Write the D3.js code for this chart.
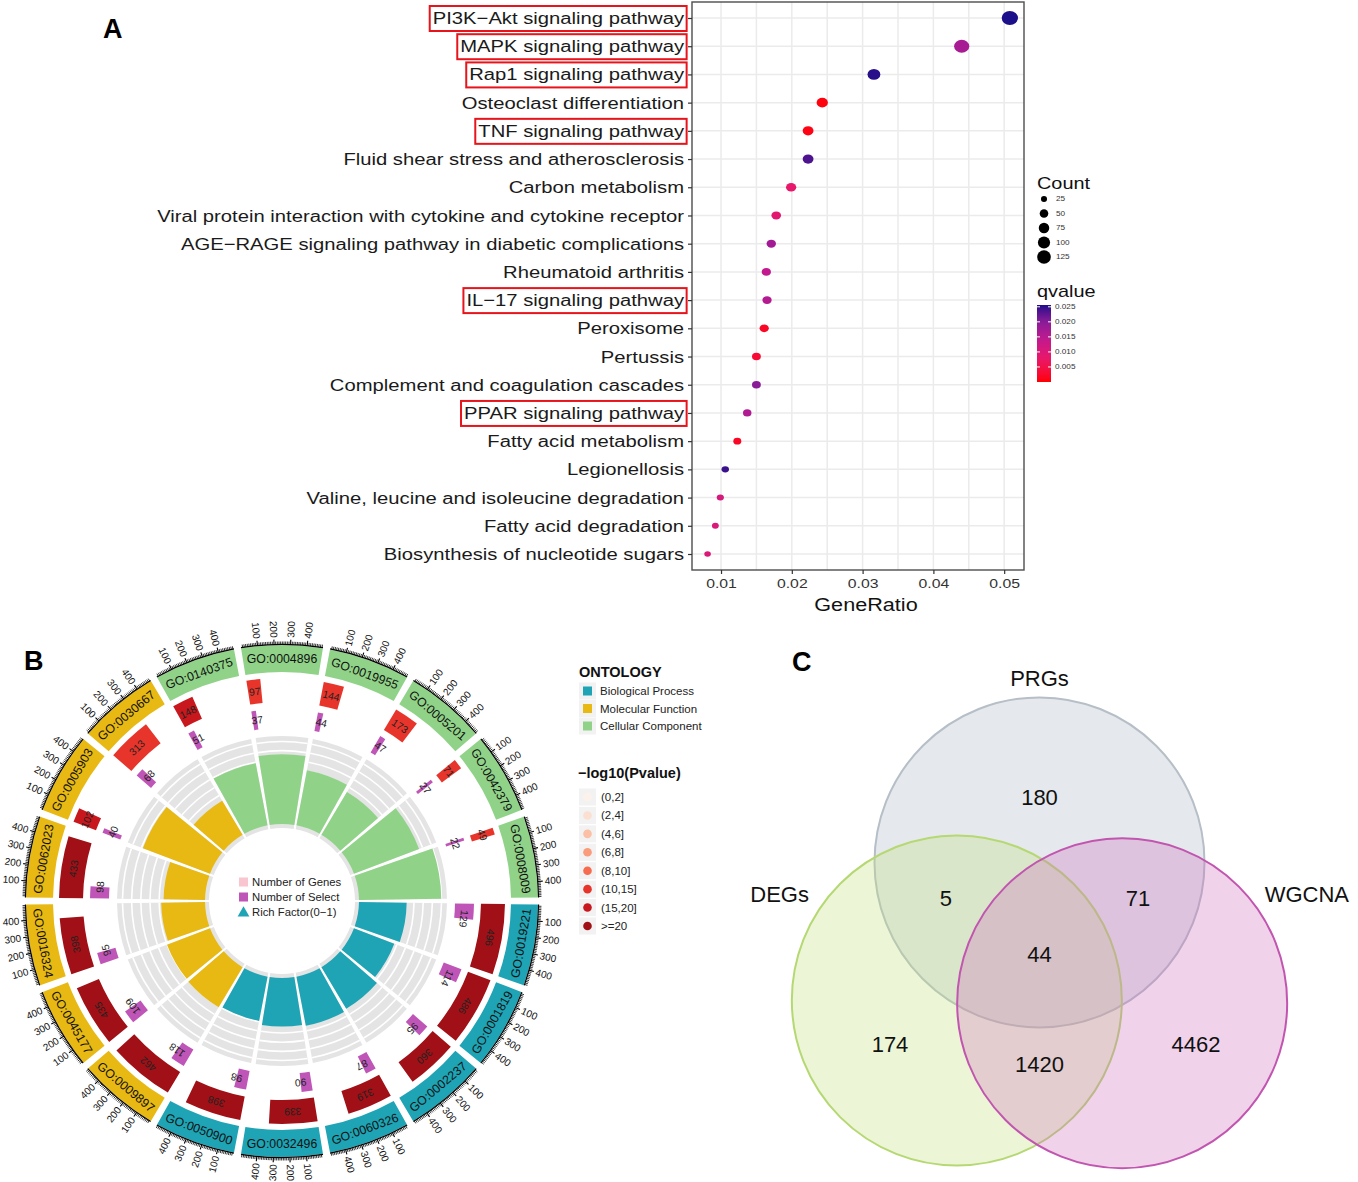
<!DOCTYPE html>
<html><head><meta charset="utf-8">
<script src="https://cdn.jsdelivr.net/npm/d3@7"></script>
<style>
body{margin:0;background:#fff}
svg{display:block;font-family:"Liberation Sans",Arial,Helvetica,sans-serif}
</style>
</head><body>
<svg id="fig" width="1358" height="1182"></svg>
<script>
// ================= PANEL A DATA =================
const pathways = [
  "PI3K\u2212Akt signaling pathway","MAPK signaling pathway","Rap1 signaling pathway",
  "Osteoclast differentiation","TNF signaling pathway","Fluid shear stress and atherosclerosis",
  "Carbon metabolism","Viral protein interaction with cytokine and cytokine receptor",
  "AGE\u2212RAGE signaling pathway in diabetic complications","Rheumatoid arthritis",
  "IL\u221217 signaling pathway","Peroxisome","Pertussis","Complement and coagulation cascades",
  "PPAR signaling pathway","Fatty acid metabolism","Legionellosis",
  "Valine, leucine and isoleucine degradation","Fatty acid degradation","Biosynthesis of nucleotide sugars"];
const geneRatio = [0.0508,0.0440,0.0316,0.0243,0.0223,0.0223,0.0199,0.0178,0.0171,0.0164,
                   0.0165,0.0161,0.0150,0.0150,0.0137,0.0123,0.0106,0.0099,0.0092,0.0081];
const counts = [129,112,80,62,57,57,51,45,43,42,42,41,38,38,35,31,27,25,23,21];
const qvalues = [0.0258,0.0170,0.0252,0.0005,0.0008,0.0235,0.0080,0.0090,0.0175,0.0140,
                 0.0155,0.0020,0.0030,0.0200,0.0160,0.0020,0.0245,0.0110,0.0105,0.0100];
const boxedPathways = ["PI3K\u2212Akt signaling pathway","MAPK signaling pathway","Rap1 signaling pathway",
  "TNF signaling pathway","IL\u221217 signaling pathway","PPAR signaling pathway"];
const xTickValues = [0.01,0.02,0.03,0.04,0.05];
const countLegendValues = [25,50,75,100,125];
const qLegendTicks = [0.005,0.010,0.015,0.020,0.025];
const qColorStops = [0,0.008,0.014,0.020,0.0256];
const qColors = ["#FF0000","#E8186A","#C21A8E","#8A1C98","#1B0F8A"];

// ================= PANEL B DATA =================
const goTerms = ["GO:0019221","GO:0001819","GO:0002237","GO:0060326","GO:0032496","GO:0050900",
                 "GO:0009897","GO:0045177","GO:0016324","GO:0062023","GO:0005903","GO:0030667",
                 "GO:0140375","GO:0004896","GO:0019955","GO:0005201","GO:0042379","GO:0008009"];
const goOntology = ["BP","BP","BP","BP","BP","BP","MF","MF","MF","MF","MF","MF",
                    "CC","CC","CC","CC","CC","CC"];
const geneNumbers = [496,486,360,319,339,398, 462,435,398,433,102,313, 148,97,144,173,71,49];
const selectNumbers = [129,114,95,87,90,98, 118,109,95,98,40,68, 51,37,44,47,27,22];
const richFactors = [0.26,0.235,0.264,0.273,0.265,0.246, 0.255,0.251,0.239,0.226,0.392,0.217,
                     0.345,0.381,0.306,0.272,0.380,0.449];
const pvalueBinIndex = [7,7,7,7,7,7, 7,7,7,7,6,5, 6,5,5,5,5,5];
const pvalueBins = ["(0,2]","(2,4]","(4,6]","(6,8]","(8,10]","(10,15]","(15,20]",">=20"];
const pvalueColors = ["#FCF1EB","#FBDFD0","#FBC0A5","#FA9C7C","#F76B4E","#E8352B","#C8181D","#A01016"];
const ontologyKeys = ["BP","MF","CC"];
const ontologyNames = ["Biological Process","Molecular Function","Cellular Component"];
const ontologyColors = ["#1EA4B5","#E8B912","#90D388"];
const axisMajorTicks = [100,200,300,400];
const innerLegendLabels = ["Number of Genes","Number of Select","Rich Factor(0\u22121)"];

// ================= PANEL C DATA =================
const vennSetNames = ["PRGs","DEGs","WGCNA"];
const vennRegionLabels = ["PRGs only","PRGs&DEGs","PRGs&WGCNA","all","DEGs only","DEGs&WGCNA","WGCNA only"];
const vennRegionCounts = [180,5,71,44,174,1420,4462];

// =====================================================
const svg = d3.select("#fig");
svg.append("rect").attr("width",1358).attr("height",1182).attr("fill","#fff");

[["A",103,38],["B",24,670],["C",792,671]].forEach(([t,x,y])=>{
  svg.append("text").attr("x",x).attr("y",y).attr("font-size",27).attr("font-weight","bold").text(t);
});

// ================= PANEL A =================
(function(){
  const SX = 1.17; // horizontal stretch of panel A text
  const L=692,R=1024,T=2,B=570;
  const g = svg.append("g");
  const x = d3.scaleLinear().domain([0.0059,0.0528]).range([L,R]);
  const y = d3.scalePoint().domain(pathways).range([18,554]);
  const size = d3.scaleSqrt().domain([0,125]).range([0,6.8]);
  const col = d3.scaleLinear().domain(qColorStops).range(qColors).interpolate(d3.interpolateLab).clamp(true);
  const stext = (sel,xx,yy)=>sel.attr("x",xx/SX).attr("y",yy).attr("transform",`scale(${SX},1)`);

  const minor = d3.range(0.005,0.056,0.005).filter(v=>v>x.domain()[0]&&v<x.domain()[1]);
  g.selectAll(".vg").data(minor).enter().append("line")
    .attr("x1",d=>x(d)).attr("x2",d=>x(d)).attr("y1",T).attr("y2",B)
    .attr("stroke","#EBEBEB").attr("stroke-width",1.5);
  g.selectAll(".hg").data(pathways).enter().append("line")
    .attr("x1",L).attr("x2",R).attr("y1",d=>y(d)).attr("y2",d=>y(d))
    .attr("stroke","#EBEBEB").attr("stroke-width",1.5);

  g.selectAll(".pt").data(pathways).enter().append("ellipse")
    .attr("cx",(d,i)=>x(geneRatio[i])).attr("cy",d=>y(d))
    .attr("rx",(d,i)=>size(counts[i])*1.18).attr("ry",(d,i)=>size(counts[i]))
    .attr("fill",(d,i)=>col(qvalues[i]));

  g.append("rect").attr("x",L).attr("y",T).attr("width",R-L).attr("height",B-T)
    .attr("fill","none").attr("stroke","#4D4D4D").attr("stroke-width",1.4);

  const xa = g.append("g").attr("transform",`translate(0,${B})`)
    .call(d3.axisBottom(x).tickValues(xTickValues).tickSize(4).tickPadding(4).tickFormat(d3.format(".2f")));
  xa.select(".domain").remove();
  xa.selectAll("line").attr("stroke","#333").attr("stroke-width",1.2);
  xa.selectAll("text").attr("font-size",13.5).attr("fill","#333").attr("transform",`scale(${SX},1)`);
  stext(g.append("text"),(L+R)/2+8,611).attr("text-anchor","middle").attr("font-size",18.5).attr("fill","#111").text("GeneRatio");

  const ya = g.append("g").attr("transform",`translate(${L},0)`)
    .call(d3.axisLeft(y).tickSize(4).tickPadding(4));
  ya.select(".domain").remove();
  ya.selectAll("line").attr("stroke","#333").attr("stroke-width",1.2);
  ya.selectAll("text").attr("font-size",17.3).attr("fill","#1a1a1a").attr("x",-8/SX).attr("transform",`scale(${SX},1)`);
  ya.selectAll(".tick").each(function(d){
    if(!boxedPathways.includes(d)) return;
    const t = d3.select(this).select("text").node();
    const bb = t.getBBox();
    d3.select(this).insert("rect","text")
      .attr("x",bb.x*SX-3).attr("y",-12.5).attr("width",bb.width*SX+5).attr("height",25)
      .attr("fill","none").attr("stroke","#E8141B").attr("stroke-width",2);
  });

  const lg = svg.append("g");
  stext(lg.append("text"),1037,189).attr("font-size",17).attr("fill","#111").text("Count");
  const ly = d3.scalePoint().domain(countLegendValues).range([199,257]);
  countLegendValues.forEach(v=>{
    lg.append("circle").attr("cx",1044).attr("cy",ly(v)).attr("r",size(v)).attr("fill","#000");
    stext(lg.append("text"),1056,ly(v)).attr("dy","0.35em").attr("font-size",7).attr("fill","#333").text(v);
  });
  stext(lg.append("text"),1037,297).attr("font-size",17).attr("fill","#111").text("qvalue");
  const qy = d3.scaleLinear().domain([0,0.0256]).range([382,305]);
  const defs = svg.append("defs");
  const grad = defs.append("linearGradient").attr("id","qgrad").attr("x1",0).attr("x2",0).attr("y1",1).attr("y2",0);
  d3.range(0,1.0001,0.05).forEach(t=>{
    grad.append("stop").attr("offset",t).attr("stop-color",col(t*0.0256));
  });
  lg.append("rect").attr("x",1037).attr("y",305).attr("width",14).attr("height",77).attr("fill","url(#qgrad)");
  qLegendTicks.forEach(v=>{
    lg.append("line").attr("x1",1037).attr("x2",1040).attr("y1",qy(v)).attr("y2",qy(v)).attr("stroke","#fff").attr("stroke-width",1);
    lg.append("line").attr("x1",1048).attr("x2",1051).attr("y1",qy(v)).attr("y2",qy(v)).attr("stroke","#fff").attr("stroke-width",1);
    stext(lg.append("text"),1055,qy(v)).attr("dy","0.35em").attr("font-size",7).attr("fill","#333").text(d3.format(".3f")(v));
  });
})();

// ================= PANEL B =================
(function(){
  const cx=282, cy=901;
  const g = svg.append("g").attr("transform",`translate(${cx},${cy})`);
  const n = goTerms.length, step = 360/n, gap = 1.6, startDeg = 90;
  const rad = d=>d*Math.PI/180;
  const pt = (r,deg)=>[r*Math.sin(rad(deg)), -r*Math.cos(rad(deg))];
  const xMax = d3.max(geneNumbers);
  const secScale = i => d3.scaleLinear().domain([0,xMax]).range([startDeg+i*step+gap/2, startDeg+(i+1)*step-gap/2]);
  const ontColor = d3.scaleOrdinal().domain(ontologyKeys).range(ontologyColors);
  const pColor = d3.scaleOrdinal().domain(d3.range(8)).range(pvalueColors);
  const rScale = d3.scaleLinear().domain([0,0.48]).range([77,165]);
  const arc = d3.arc();

  goTerms.forEach((go,i)=>{
    const s = secScale(i);
    const a0 = s(0), a1 = s(xMax), am = (a0+a1)/2;
    g.append("path").attr("d",arc({innerRadius:229,outerRadius:256,startAngle:rad(a0),endAngle:rad(a1)}))
      .attr("fill",ontColor(goOntology[i]));
    const [tx,ty] = pt(242.5,am);
    const norm = ((am%360)+360)%360;
    const rot = (norm>90 && norm<270) ? am-180 : am;
    g.append("text").attr("transform",`translate(${tx},${ty}) rotate(${rot})`)
      .attr("text-anchor","middle").attr("dy","0.36em").attr("font-size",12.3).attr("fill","#111").text(go);
    g.append("path").attr("d",arc({innerRadius:256,outerRadius:257.2,startAngle:rad(a0),endAngle:rad(a1)})).attr("fill","#000");
    d3.range(10,xMax,10).forEach(v=>{
      const major = v%100===0;
      const [x1,y1]=pt(256.5,s(v)), [x2,y2]=pt(major?261.5:259.5,s(v));
      g.append("line").attr("x1",x1).attr("y1",y1).attr("x2",x2).attr("y2",y2).attr("stroke","#000").attr("stroke-width",major?1.1:0.8);
    });
    axisMajorTicks.forEach(v=>{
      const a = s(v), na=((a%360)+360)%360;
      const [lx,ly]=pt(263.5,a);
      const right = na<180;
      g.append("text").attr("transform",`translate(${lx},${ly}) rotate(${right?a-90:a+90})`)
        .attr("text-anchor",right?"start":"end").attr("dy","0.35em").attr("font-size",10).attr("fill","#111").text(v);
    });
    g.append("path").attr("d",arc({innerRadius:199,outerRadius:223,startAngle:rad(a0),endAngle:rad(s(geneNumbers[i]))}))
      .attr("fill",pColor(pvalueBinIndex[i]));
    {
      const a = s(geneNumbers[i]/2); const [lx,ly]=pt(211,a);
      g.append("text").attr("transform",`translate(${lx},${ly}) rotate(${a})`).attr("text-anchor","middle")
        .attr("dy","0.35em").attr("font-size",10.3).attr("fill","#222").text(geneNumbers[i]);
    }
    g.append("path").attr("d",arc({innerRadius:173,outerRadius:192,startAngle:rad(a0),endAngle:rad(s(selectNumbers[i]))}))
      .attr("fill","#C055B8");
    {
      const a = s(selectNumbers[i]); const [lx,ly]=pt(182.5,a);
      g.append("text").attr("transform",`translate(${lx},${ly}) rotate(${a})`).attr("text-anchor","middle")
        .attr("dy","0.35em").attr("font-size",10.3).attr("fill","#222").text(selectNumbers[i]);
    }
    g.append("path").attr("d",arc({innerRadius:73,outerRadius:165,startAngle:rad(a0),endAngle:rad(a1)})).attr("fill","#E4E4E4");
    d3.range(0.05,0.46,0.05).forEach(v=>{
      g.append("path").attr("d",arc({innerRadius:rScale(v)-0.8,outerRadius:rScale(v)+0.8,startAngle:rad(a0),endAngle:rad(a1)})).attr("fill","#fff");
    });
    g.append("path").attr("d",arc({innerRadius:77,outerRadius:rScale(richFactors[i]),startAngle:rad(a0),endAngle:rad(a1)}))
      .attr("fill",ontColor(goOntology[i]));
  });

  const cl = svg.append("g");
  const cy0 = d3.scalePoint().domain(innerLegendLabels).range([882,912]);
  const swatch = ["#F9C6CF","#C055B8","#1EA4B5"];
  innerLegendLabels.forEach((lab,i)=>{
    const yy = cy0(lab);
    if(i<2) cl.append("rect").attr("x",239).attr("y",yy-4.5).attr("width",9).attr("height",9).attr("fill",swatch[i]);
    else cl.append("path").attr("d",d3.symbol(d3.symbolTriangle,60)()).attr("transform",`translate(243.5,${yy+1})`).attr("fill",swatch[i]);
    cl.append("text").attr("x",252).attr("y",yy).attr("dy","0.35em").attr("font-size",11.3).attr("fill","#222").text(lab);
  });

  const rl = svg.append("g");
  rl.append("text").attr("x",579).attr("y",677).attr("font-size",14.5).attr("font-weight","bold").attr("fill","#111").text("ONTOLOGY");
  const oy = d3.scalePoint().domain(ontologyNames).range([691,726]);
  ontologyNames.forEach((nm,i)=>{
    rl.append("rect").attr("x",579).attr("y",oy(nm)-8.5).attr("width",17).attr("height",17).attr("fill","#F2F2F2");
    rl.append("rect").attr("x",583).attr("y",oy(nm)-4.5).attr("width",9).attr("height",9).attr("fill",ontologyColors[i]);
    rl.append("text").attr("x",600).attr("y",oy(nm)).attr("dy","0.35em").attr("font-size",11.5).attr("fill","#222").text(nm);
  });
  rl.append("text").attr("x",578).attr("y",778).attr("font-size",14.5).attr("font-weight","bold").attr("fill","#111").text("\u2212log10(Pvalue)");
  const py = d3.scalePoint().domain(pvalueBins).range([797,926]);
  pvalueBins.forEach((b,i)=>{
    rl.append("rect").attr("x",579).attr("y",py(b)-8.5).attr("width",17).attr("height",17).attr("fill","#F2F2F2");
    rl.append("circle").attr("cx",587.5).attr("cy",py(b)).attr("r",4.3).attr("fill",pvalueColors[i]);
    rl.append("text").attr("x",601).attr("y",py(b)).attr("dy","0.35em").attr("font-size",11.5).attr("fill","#222").text(b);
  });
})();

// ================= PANEL C =================
(function(){
  const g = svg.append("g");
  const ux = d3.scaleLinear().domain([0,1]).range([792,1287]);
  const uy = d3.scaleLinear().domain([0,1]).range([700,1168]);
  const circles = [
    {name:vennSetNames[0], c:[0.5,0.347], fill:"#A9B4BF", stroke:"#B6BEC7"},
    {name:vennSetNames[1], c:[0.333,0.642], fill:"#BFE07C", stroke:"#B5D873"},
    {name:vennSetNames[2], c:[0.667,0.648], fill:"#CC6CBE", stroke:"#C155AF"}];
  const r = 165;
  circles.forEach(c=>{
    g.append("circle").attr("cx",ux(c.c[0])).attr("cy",uy(c.c[1])).attr("r",r)
      .attr("fill",c.fill).attr("fill-opacity",0.3).attr("stroke",c.stroke).attr("stroke-width",2);
  });
  const setLabelPos = [[0.5,-0.047],[-0.025,0.415],[1.04,0.415]];
  vennSetNames.forEach((nm,i)=>{
    g.append("text").attr("x",ux(setLabelPos[i][0])).attr("y",uy(setLabelPos[i][1])).attr("dy","0.35em")
      .attr("text-anchor","middle").attr("font-size",22).attr("fill","#111").text(nm);
  });
  const regionPos = [[0.5,0.207],[0.311,0.423],[0.699,0.423],[0.5,0.543],[0.198,0.735],[0.5,0.778],[0.816,0.735]];
  vennRegionCounts.forEach((v,i)=>{
    g.append("text").attr("x",ux(regionPos[i][0])).attr("y",uy(regionPos[i][1])).attr("dy","0.35em")
      .attr("text-anchor","middle").attr("font-size",22).attr("fill","#111").text(v);
  });
})();
</script>
</body></html>
